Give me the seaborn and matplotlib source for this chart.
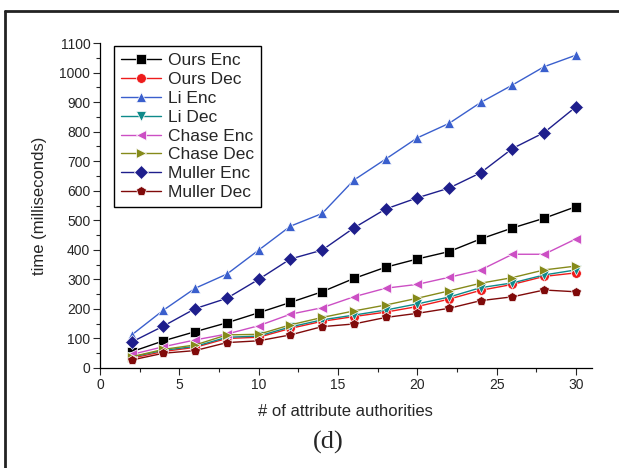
import matplotlib
matplotlib.use("Agg")
import matplotlib.pyplot as plt
from matplotlib.lines import Line2D
from matplotlib.ticker import MultipleLocator, AutoMinorLocator
import seaborn as sns
import pandas as pd

x_vals = [2, 4, 6, 8, 10, 12, 14, 16, 18, 20, 22, 24, 26, 28, 30]

ours_enc = [55, 92, 123, 153, 187, 222, 258, 303, 341, 369, 394, 437, 474, 507, 546]
ours_dec = [33, 56, 70, 100, 104, 134, 158, 174, 189, 208, 233, 263, 283, 310, 322]
li_enc = [112, 196, 270, 318, 399, 480, 523, 636, 707, 779, 828, 899, 958, 1020, 1059]
li_dec = [37, 60, 73, 104, 108, 139, 163, 179, 196, 217, 240, 272, 288, 315, 332]
chase_enc = [46, 72, 95, 115, 143, 182, 204, 241, 270, 283, 307, 332, 385, 385, 437]
chase_dec = [38, 63, 78, 112, 114, 146, 171, 193, 213, 236, 261, 287, 306, 332, 345]
muller_enc = [88, 142, 201, 236, 300, 369, 399, 474, 538, 576, 609, 661, 743, 797, 884]
muller_dec = [27, 50, 59, 86, 92, 112, 140, 149, 171, 185, 202, 228, 241, 264, 258]

series_names = ["Ours Enc", "Ours Dec", "Li Enc", "Li Dec",
                "Chase Enc", "Chase Dec", "Muller Enc", "Muller Dec"]
series_values = [ours_enc, ours_dec, li_enc, li_dec,
                 chase_enc, chase_dec, muller_enc, muller_dec]

colors = ["#000000", "#ee1c1c", "#3a5fcd", "#0e8a8a",
          "#cc4fc4", "#858a1a", "#1e1e8c", "#800a0a"]
markers = ["s", "o", "^", "v", "<", ">", "D", "p"]

rows = []
for name, vals in zip(series_names, series_values):
    for xv, yv in zip(x_vals, vals):
        rows.append({"x": xv, "y": yv, "series": name})
df = pd.DataFrame(rows)

sns.set_style("ticks")
plt.rcParams["font.family"] = ["Liberation Sans", "DejaVu Sans"]

fig = plt.figure(figsize=(6.19, 4.68), dpi=100)
ax = fig.add_axes([0.1616, 0.2137, 0.7944, 0.6943])

sns.lineplot(data=df, x="x", y="y", hue="series", style="series",
             hue_order=series_names, style_order=series_names,
             palette=dict(zip(series_names, colors)),
             markers=dict(zip(series_names, markers)),
             dashes=False, markersize=7, linewidth=1.0,
             markeredgewidth=0.5, ax=ax)

ax.set_xlim(0, 31)
ax.set_ylim(0, 1100)
ax.xaxis.set_major_locator(MultipleLocator(5))
ax.xaxis.set_minor_locator(AutoMinorLocator(2))
ax.yaxis.set_major_locator(MultipleLocator(100))
ax.yaxis.set_minor_locator(AutoMinorLocator(2))
ax.tick_params(axis="both", which="major", length=5, width=0.8, labelsize=10, pad=2)
ax.tick_params(axis="both", which="minor", length=3, width=0.8)
for s in ["top", "right"]:
    ax.spines[s].set_visible(False)
for s in ["left", "bottom"]:
    ax.spines[s].set_linewidth(0.9)
    ax.spines[s].set_color("black")

ax.set_xlabel("# of attribute authorities", fontsize=12, labelpad=9)
ax.set_ylabel("time (milliseconds)", fontsize=12, labelpad=9)

handles, labels = ax.get_legend_handles_labels()
leg = ax.legend(handles, labels, loc="upper left", bbox_to_anchor=(0.028, 0.99),
                fontsize=12.5, frameon=True, fancybox=False, edgecolor="black",
                framealpha=1, handlelength=2.3, labelspacing=0.21,
                borderpad=0.4, handletextpad=0.4, borderaxespad=0)
leg.get_frame().set_linewidth(1.0)

fig.text(0.53, 0.055, "(d)", fontsize=19, ha="center", va="center",
         family=["Liberation Serif", "DejaVu Serif"])

fig.add_artist(Line2D([0.008, 0.008], [0.0, 0.976], transform=fig.transFigure,
                      color="#222222", linewidth=2))
fig.add_artist(Line2D([0.008, 1.0], [0.976, 0.976], transform=fig.transFigure,
                      color="#222222", linewidth=2))

fig.savefig("out.png", dpi=100)
